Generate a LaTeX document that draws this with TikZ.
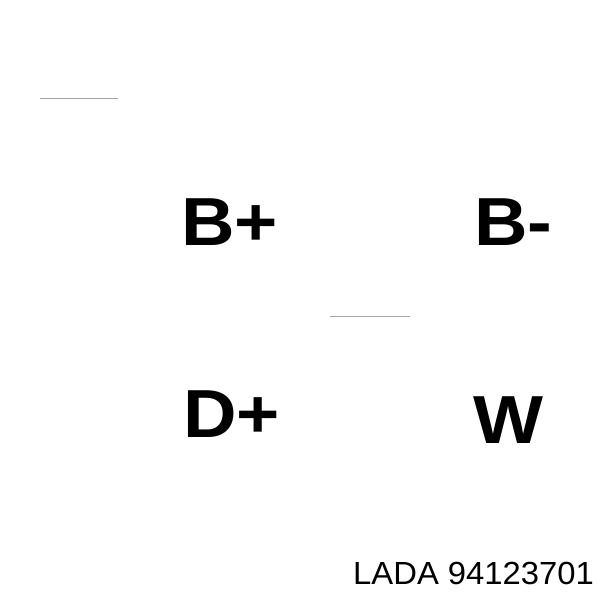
\documentclass[tikz,border=0pt]{standalone}
\usepackage{fontspec}
\setmainfont{Liberation Sans}
\begin{document}
\begin{tikzpicture}[x=1pt,y=1pt,
  term/.style={inner sep=0pt,anchor=base west,xscale=1.09,font=\fontsize{68}{68}\selectfont\bfseries},
  brand/.style={inner sep=0pt,anchor=base west,xscale=1.025,font=\fontsize{32}{32}\selectfont},
  thin/.style={draw=gray!70,line width=0.8pt}]
\useasboundingbox[fill=white] (0,0) rectangle (600,600);
\node[term] (bp) at (181,354) {B+};
\node[term] (bm) at (474,354) {B-};
\node[term] (dp) at (183,162) {D+};
\node[term] (w) at (473,156) {W};
\node[brand] (lada) at (353,16) {LADA 94123701};
\coordinate (l1a) at (40,502);
\coordinate (l1b) at (118,502);
\coordinate (l2a) at (330,284);
\coordinate (l2b) at (410,284);
\draw[thin] (l1a) -- (l1b);
\draw[thin] (l2a) -- (l2b);
\end{tikzpicture}
\end{document}
